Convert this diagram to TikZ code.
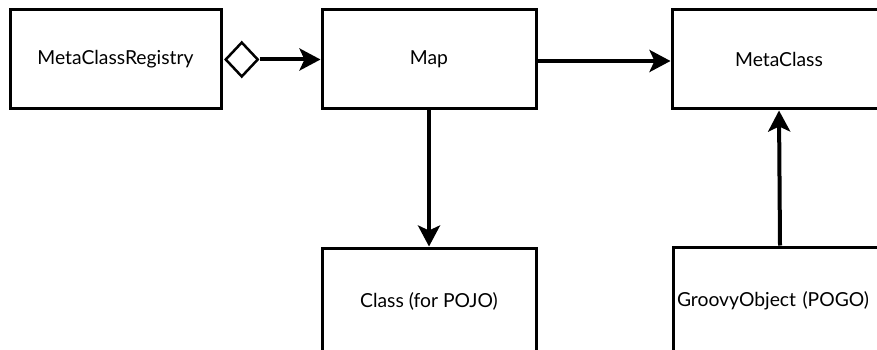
\documentclass[tikz,border=0pt]{standalone}
\usepackage{fontspec}
\setmainfont{Lato}
\usetikzlibrary{arrows.meta,shapes.geometric}

\tikzset{
  classbox/.style={draw, line width=3pt, minimum width=214pt, minimum height=99pt,
    inner sep=0pt, font=\fontsize{19.3}{23}\selectfont},
  link/.style={line width=4pt, -{Stealth[length=21pt, width=22pt, inset=5pt]}},
  aggmark/.style={draw, diamond, line width=2.5pt, minimum width=33pt, minimum height=35pt,
    inner sep=0pt, anchor=west}
}

\begin{document}
\begin{tikzpicture}[x=1pt, y=-1pt]
  \path[use as bounding box, fill=white] (0,0) rectangle (877,350);
  \clip (0,0) rectangle (877,350);

  % class boxes
  \node[classbox, minimum width=211pt] (reg) at (115.5,59.5) {MetaClassRegistry};
  \node[classbox] (map) at (429,59.5) {Map};
  \node[classbox] (meta) at (779,59.5) {MetaClass};
  \node[classbox, minimum height=106pt] (pojo) at (429,301) {Class (for POJO)};
  \node[classbox, minimum height=108pt, text width=206pt, align=left] (pogo) at (780,301)
    {GroovyObject (POGO)};

  % aggregation diamond on the registry side
  \node[aggmark] (agg) at ([xshift=1.5pt]reg.east) {};

  % associations
  \draw[link] (agg.east) -- (map.west);
  \draw[link] (map.east |- 0,61) -- (meta.west |- 0,61);
  \draw[link] (map.south) -- (pojo.north);
  \draw[link] (pogo.north) -- (meta.south);
\end{tikzpicture}
\end{document}
